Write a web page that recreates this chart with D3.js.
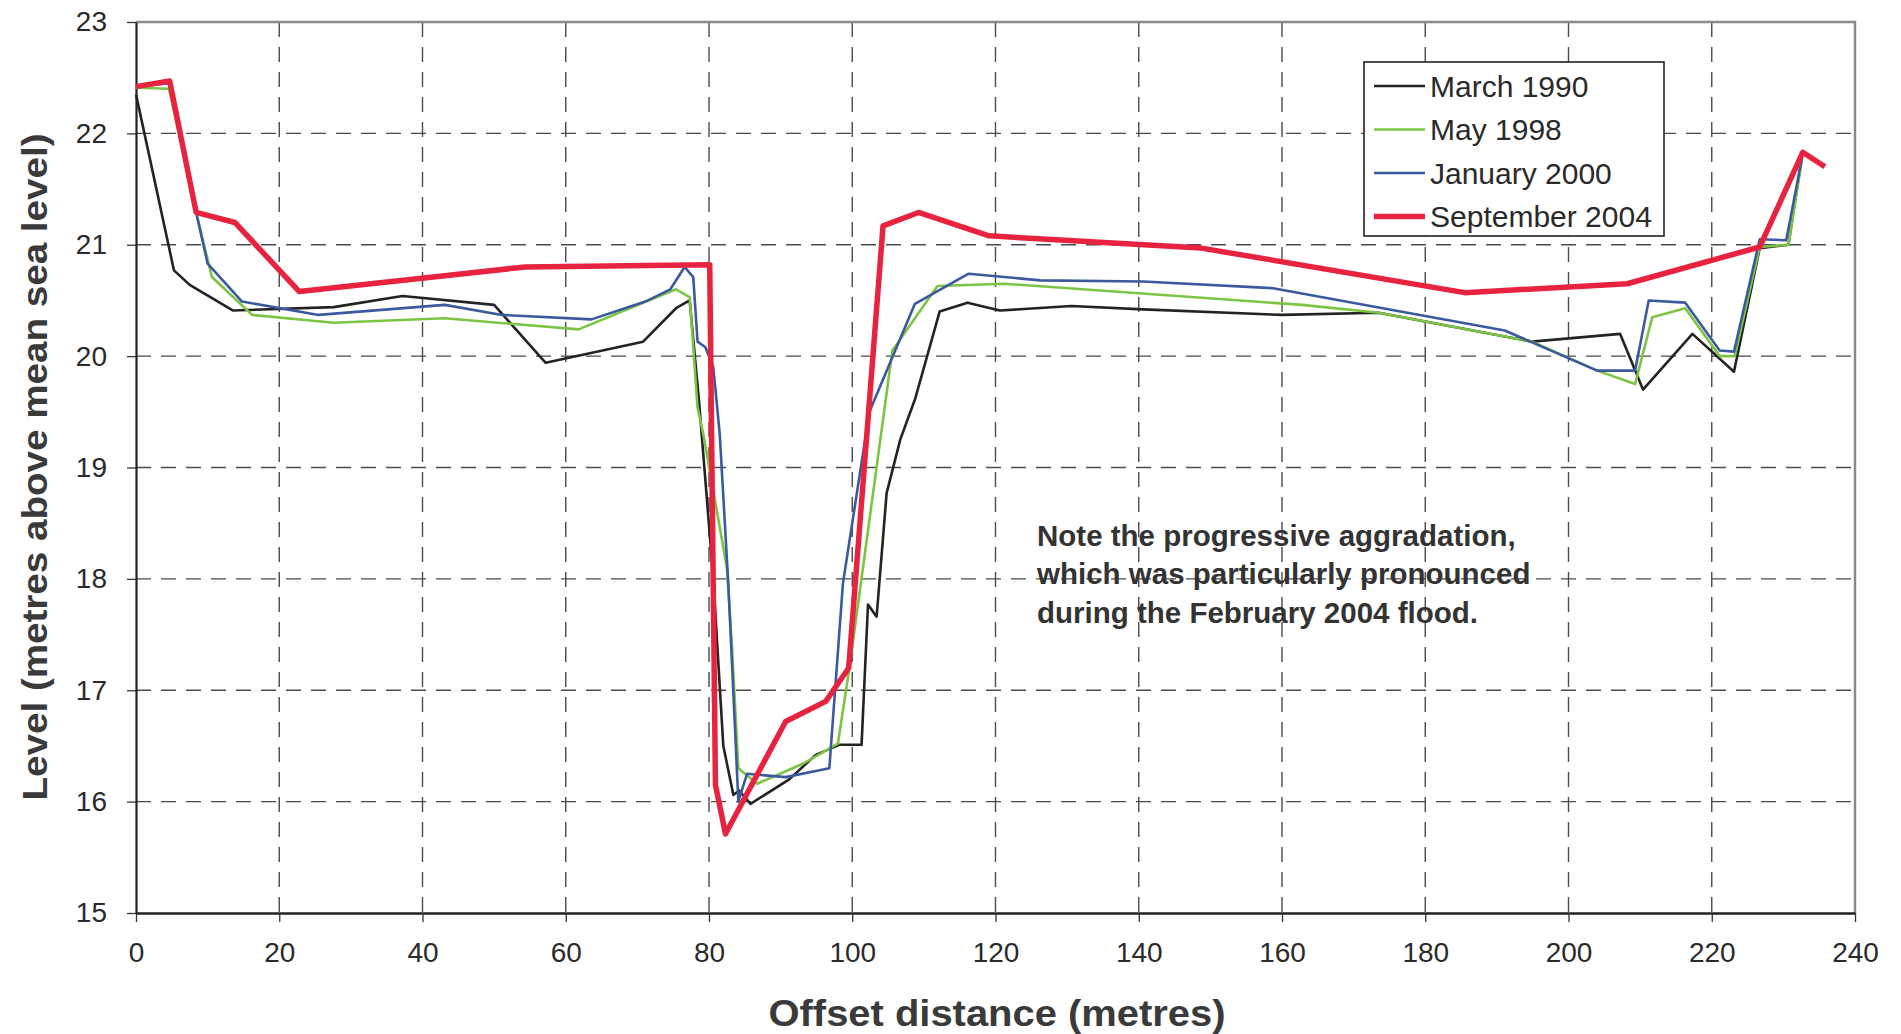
<!DOCTYPE html>
<html>
<head>
<meta charset="utf-8">
<script src="https://cdn.jsdelivr.net/npm/d3@7"></script>
<style>
  html, body { margin: 0; padding: 0; background: #fff; }
  svg { display: block; }
  .tick text { font-family: "Liberation Sans", Arial, sans-serif; fill: #2a2a2a; }
</style>
</head>
<body>
<svg id="chart" width="1901" height="1034"></svg>
<script>
// Cross-section survey profiles: [offset (m), level (m above mean sea level)]
const march1990 = [[0,22.35],[5.3,20.77],[7.5,20.64],[13.5,20.41],[27.6,20.44],[37.2,20.54],[50.0,20.46],[57.2,19.94],[70.8,20.13],[75.4,20.43],[77.3,20.50],[78.6,19.6],[80.6,18.0],[82.0,16.5],[83.4,16.06],[84.2,16.1],[85.8,15.98],[91.2,16.2],[94.9,16.42],[98.2,16.51],[101.3,16.51],[102.2,17.77],[103.4,17.66],[104.8,18.77],[106.7,19.25],[108.8,19.62],[112.2,20.4],[116.1,20.48],[120.6,20.41],[130.6,20.45],[140.6,20.42],[160,20.37],[173.5,20.39],[194.9,20.13],[207.2,20.20],[210.4,19.70],[217.3,20.20],[223.1,19.86],[226.7,20.97],[230.7,21.0],[232.6,21.8]];
const may1998 = [[0,22.41],[4.6,22.40],[8.4,21.29],[10.6,20.71],[16.2,20.37],[27.6,20.30],[43.1,20.34],[61.8,20.24],[75.4,20.6],[77.3,20.53],[78.4,19.54],[79.2,19.3],[82.5,18.1],[83.2,17.4],[84.1,16.3],[86.7,16.16],[93.1,16.34],[98.0,16.52],[99.6,17.2],[105.6,20.05],[111.9,20.63],[121.25,20.65],[162.8,20.46],[173.5,20.39],[194.9,20.13],[204.0,19.87],[209.3,19.75],[211.7,20.35],[216.3,20.43],[221.1,20.0],[223.2,20.0],[226.7,20.98],[230.7,21.0],[232.6,21.77]];
const january2000 = [[0,22.42],[4.6,22.45],[8.4,21.29],[10.0,20.83],[14.8,20.49],[25.5,20.37],[43.1,20.46],[51.1,20.37],[63.6,20.33],[71.1,20.49],[74.6,20.6],[76.6,20.8],[77.8,20.71],[78.4,20.13],[79.5,20.08],[80.6,19.9],[81.5,19.3],[82.7,17.95],[84.1,16.0],[85.3,16.25],[90.7,16.22],[96.8,16.3],[98.7,17.96],[102.4,19.5],[108.75,20.47],[116.25,20.74],[126.25,20.68],[140.6,20.67],[158.75,20.61],[191.1,20.23],[204.0,19.87],[209.3,19.87],[211.2,20.5],[216.3,20.48],[221.1,20.05],[223.1,20.04],[226.7,21.05],[230.4,21.04],[232.6,21.78]];
const september2004 = [[0,22.42],[4.7,22.47],[8.4,21.29],[13.8,21.2],[22.8,20.58],[39.9,20.70],[54.3,20.80],[80.1,20.82],[80.9,16.15],[82.3,15.71],[90.7,16.72],[96.3,16.90],[99.5,17.2],[104.3,21.17],[109.25,21.29],[119.1,21.08],[148.75,20.97],[185.5,20.57],[208.2,20.65],[226.7,20.98],[232.7,21.83],[235.8,21.70]];

const seriesNames = ["March 1990", "May 1998", "January 2000", "September 2004"];
const seriesData = [march1990, may1998, january2000, september2004];
const seriesColors = ["#232323", "#7cc443", "#3b5a9e", "#e8233f"];
const seriesWidths = [2.6, 2.6, 2.6, 5.5];

const xTicks = [0,20,40,60,80,100,120,140,160,180,200,220,240];
const yTicks = [15,16,17,18,19,20,21,22,23];
const noteLines = ["Note the progressive aggradation,", "which was particularly pronounced", "during the February 2004 flood."];

const svg = d3.select("#chart");
const margin = { left: 136, right: 1855, top: 22, bottom: 913 };

const x = d3.scaleLinear().domain([0, 240]).range([margin.left, margin.right]);
const y = d3.scaleLinear().domain([15, 23]).range([margin.bottom, margin.top]);

// dashed grid
const grid = svg.append("g").attr("stroke", "#4a4a4a").attr("stroke-width", 1.4).attr("stroke-dasharray", "15,10");
grid.selectAll("line.h").data(yTicks.filter(d => d > 15 && d < 23)).join("line")
  .attr("x1", x(0)).attr("x2", x(240)).attr("y1", d => y(d)).attr("y2", d => y(d));
grid.selectAll("line.v").data(xTicks.filter(d => d > 0 && d < 240)).join("line")
  .attr("x1", d => x(d)).attr("x2", d => x(d)).attr("y1", y(23)).attr("y2", y(15));

// top and right frame
svg.append("path")
  .attr("d", `M${x(0)},${y(23)}H${x(240)}V${y(15)}`)
  .attr("fill", "none").attr("stroke", "#8a8a8a").attr("stroke-width", 2.5);

// axes
const xAxis = svg.append("g").attr("transform", `translate(0,${y(15)})`)
  .call(d3.axisBottom(x).tickValues(xTicks).tickSize(9).tickPadding(20).tickSizeOuter(0));
xAxis.select(".domain").attr("stroke", "#222").attr("stroke-width", 2.5);
xAxis.selectAll(".tick line").attr("stroke", "#333").attr("stroke-width", 1.3);
xAxis.selectAll(".tick text").attr("font-size", 28).attr("dy", "0.71em");

const yAxis = svg.append("g").attr("transform", `translate(${x(0)},0)`)
  .call(d3.axisLeft(y).tickValues(yTicks).tickSize(9).tickPadding(20).tickSizeOuter(0));
yAxis.select(".domain").attr("stroke", "#222").attr("stroke-width", 2.2);
yAxis.selectAll(".tick line").attr("stroke", "#333").attr("stroke-width", 1.3);
yAxis.selectAll(".tick text").attr("font-size", 28);

// profile lines
const line = d3.line().x(d => x(d[0])).y(d => y(d[1]));
svg.append("g").selectAll("path").data(seriesData).join("path")
  .attr("d", line)
  .attr("fill", "none")
  .attr("stroke", (d, i) => seriesColors[i])
  .attr("stroke-width", (d, i) => seriesWidths[i])
  .attr("stroke-linejoin", "round");

// legend
const lg = svg.append("g").attr("transform", "translate(1364,62)");
lg.append("rect").attr("width", 300).attr("height", 174)
  .attr("fill", "#fff").attr("stroke", "#222").attr("stroke-width", 1.6);
const rows = lg.selectAll("g.row").data(seriesNames).join("g")
  .attr("transform", (d, i) => `translate(0,${24 + i * 43.5})`);
rows.append("line").attr("x1", 10).attr("x2", 61).attr("y1", 0).attr("y2", 0)
  .attr("stroke", (d, i) => seriesColors[i])
  .attr("stroke-width", (d, i) => seriesWidths[i]);
rows.append("text").attr("x", 66).attr("y", 0).attr("dy", "0.36em")
  .attr("font-family", "'Liberation Sans', Arial, sans-serif")
  .attr("font-size", 30).attr("fill", "#2a2a2a").text(d => d);

// annotation
svg.append("g").selectAll("text").data(noteLines).join("text")
  .attr("x", 1037).attr("y", (d, i) => 535 + i * 38.5).attr("dy", "0.36em")
  .attr("font-family", "'Liberation Sans', Arial, sans-serif")
  .attr("font-weight", "bold").attr("font-size", 29.5).attr("fill", "#333")
  .text(d => d);

// axis titles
svg.append("text")
  .attr("x", 997).attr("y", 1013).attr("dy", "0.36em")
  .attr("text-anchor", "middle")
  .attr("font-family", "'Liberation Sans', Arial, sans-serif")
  .attr("font-weight", "bold").attr("font-size", 36).attr("fill", "#3a3a3a")
  .attr("textLength", 457).attr("lengthAdjust", "spacingAndGlyphs")
  .text("Offset distance  (metres)");

svg.append("text")
  .attr("transform", "translate(34,467) rotate(-90)")
  .attr("dy", "0.36em")
  .attr("text-anchor", "middle")
  .attr("font-family", "'Liberation Sans', Arial, sans-serif")
  .attr("font-weight", "bold").attr("font-size", 35).attr("fill", "#3a3a3a")
  .attr("textLength", 667).attr("lengthAdjust", "spacingAndGlyphs")
  .text("Level (metres above mean sea level)");
</script>
</body>
</html>
